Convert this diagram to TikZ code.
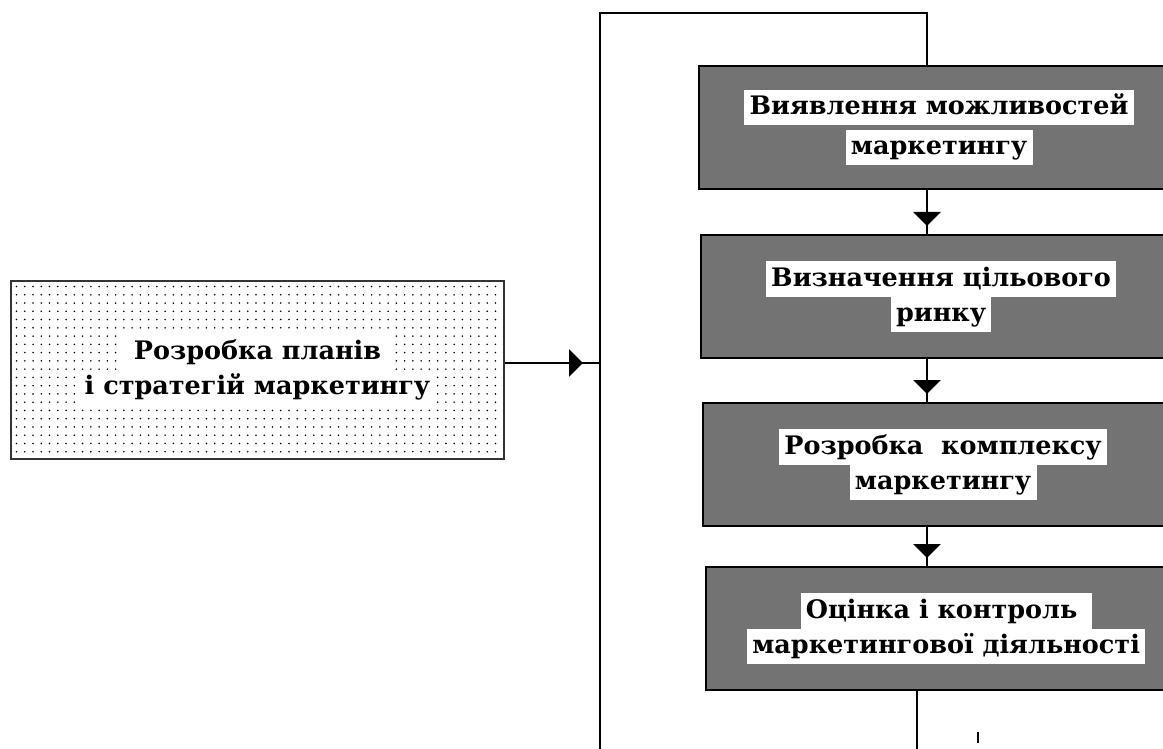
\documentclass[tikz,border=0pt]{standalone}
\usepackage{fontspec}
\setmainfont{DejaVu Serif}
\usetikzlibrary{arrows.meta,patterns.meta,positioning}
\setlength{\fboxsep}{0pt}
\def\whiteline#1{\colorbox{white}{\rule[-6pt]{0pt}{20pt}\hspace{3pt}#1\hspace{3pt}}}
\def\boxfont{\fontsize{14.5}{20}\selectfont\bfseries}
\tikzset{
	stepbox/.style={draw=black, line width=1.3pt, fill=black!55, minimum width=9.6cm, minimum height=2.46cm, anchor=north west, align=center, font=\boxfont, inner sep=0pt},
	planbox/.style={draw=black!80, line width=1.1pt, pattern={Dots[distance=4.7pt,radius=0.5pt]}, minimum width=9.86cm, minimum height=3.56cm, align=center, font=\boxfont, inner sep=0pt},
	link/.style={line width=1.1pt},
	flow/.style={link, postaction={draw, -{Triangle[width=0.55cm,length=0.28cm]}, shorten >=#1}},
	flow/.default=0.16cm
}

\begin{document}
\begin{tikzpicture}[x=0.02cm, y=-0.02cm]
	%%%%% START %%%%%
	\useasboundingbox (0,0) rectangle (1163,749);
	\clip (0,0) rectangle (1163,749);
	
	\node[planbox] (plan) at (257.5,370) {\whiteline{\ Розробка планів\ }\\\whiteline{і стратегій маркетингу}};
	
	\node[stepbox] (ident) at (698,65) {\raisebox{-0.12cm}{\shortstack{\whiteline{Виявлення можливостей}\\\whiteline{маркетингу}}}};
	\node[stepbox] (target) at (700,234) {\whiteline{Визначення цільового}\\\whiteline{ринку}};
	\node[stepbox] (mix) at (702,402) {\whiteline{Розробка\ \ комплексу}\\\whiteline{маркетингу}};
	\node[stepbox] (control) at (705,566) {\whiteline{Оцінка і контроль\ }\\\whiteline{маркетингової діяльності}};
	
	\coordinate (bustop) at (600,13);
	\coordinate (busbot) at (600,760);
	\coordinate (stem) at (927,0);
	\coordinate (outlet) at (917,760);
	\coordinate (planout) at ([yshift=0.14cm]plan.east);
	
	\draw[link] (busbot) -- (bustop) -| (ident.north -| stem);
	\draw[flow=0.34cm] (planout) -- (planout -| bustop);
	\draw[flow] (ident.south -| stem) -- (target.north -| stem);
	\draw[flow] (target.south -| stem) -- (mix.north -| stem);
	\draw[flow] (mix.south -| stem) -- (control.north -| stem);
	\draw[link] (control.south -| outlet) -- (outlet);
	
	\draw[line width=0.04cm] (978,732) -- (978,743);
	%%%%% END %%%%%
\end{tikzpicture}
\end{document}
